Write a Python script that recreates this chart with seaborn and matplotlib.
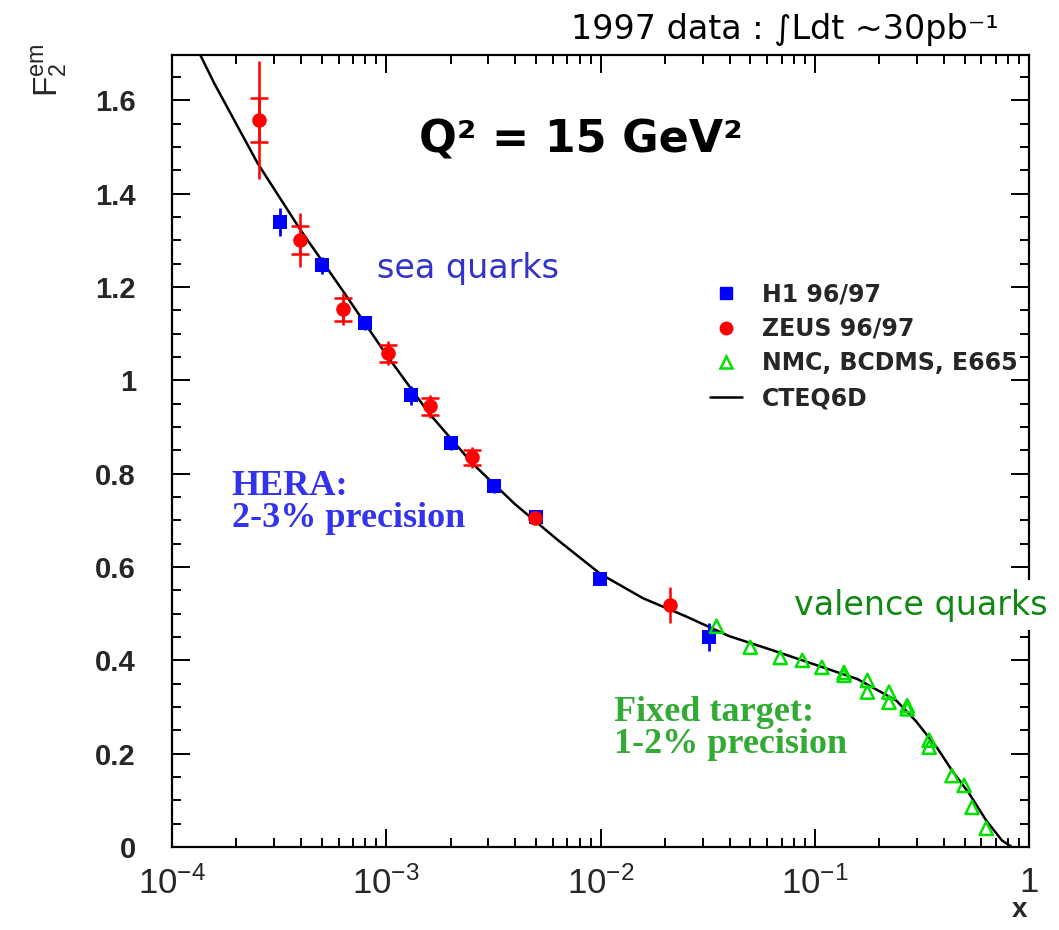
import numpy as np
import pandas as pd
import matplotlib
matplotlib.use("Agg")
import matplotlib.pyplot as plt
from matplotlib.ticker import LogLocator, MultipleLocator, FixedLocator, NullFormatter
from matplotlib.lines import Line2D
import seaborn as sns

# ---------------- data ----------------
h1_x = [3.18e-4, 5.0e-4, 7.94e-4, 1.3e-3, 2.0e-3, 3.17e-3, 5.0e-3, 9.9e-3, 3.22e-2]
h1_y = [1.339, 1.246, 1.122, 0.968, 0.865, 0.773, 0.707, 0.574, 0.449]
h1_err = [0.030, 0.018, 0.014, 0.020, 0.015, 0.014, 0.012, 0.012, 0.030]

zeus_x = [2.55e-4, 3.95e-4, 6.27e-4, 1.02e-3, 1.6e-3, 2.5e-3, 4.92e-3, 2.1e-2]
zeus_y = [1.557, 1.300, 1.152, 1.058, 0.944, 0.835, 0.704, 0.518]
zeus_tot = [0.126, 0.058, 0.034, 0.026, 0.024, 0.022, 0.012, 0.039]
zeus_stat = [0.047, 0.030, 0.024, 0.018, 0.018, 0.016, 0.0, 0.0]

fixed_x = [0.0348, 0.050, 0.069, 0.0875, 0.108, 0.137, 0.137, 0.176, 0.176,
           0.222, 0.222, 0.27, 0.27, 0.342, 0.342, 0.437, 0.498, 0.542, 0.631]
fixed_y = [0.473, 0.428, 0.406, 0.400, 0.385, 0.374, 0.368, 0.357, 0.332,
           0.332, 0.310, 0.303, 0.296, 0.229, 0.214, 0.153, 0.132, 0.085, 0.040]

cteq_x = [1.0e-4, 1.58e-4, 2.51e-4, 3.98e-4, 6.31e-4, 1.0e-3, 1.58e-3, 2.51e-3,
          3.98e-3, 6.31e-3, 1.0e-2, 1.58e-2, 2.51e-2, 3.98e-2, 6.31e-2, 0.100,
          0.158, 0.240, 0.295, 0.372, 0.437, 0.525, 0.631, 0.748, 0.832]
cteq_y = [1.82, 1.635, 1.465, 1.322, 1.19, 1.055, 0.93, 0.823,
          0.735, 0.658, 0.585, 0.533, 0.494, 0.452, 0.422, 0.391,
          0.360, 0.314, 0.271, 0.213, 0.164, 0.115, 0.057, 0.014, 0.0]

y_ticks = [0, 0.2, 0.4, 0.6, 0.8, 1.0, 1.2, 1.4, 1.6]
y_tick_labels = ["0", "0.2", "0.4", "0.6", "0.8", "1", "1.2", "1.4", "1.6"]
x_ticks = [1e-4, 1e-3, 1e-2, 1e-1, 1.0]
x_tick_labels = [r"$\mathregular{10^{-4}}$", r"$\mathregular{10^{-3}}$",
                 r"$\mathregular{10^{-2}}$", r"$\mathregular{10^{-1}}$", "1"]

legend_labels = ["H1 96/97", "ZEUS 96/97", "NMC, BCDMS, E665", "CTEQ6D"]

# ---------------- style ----------------
sns.set_theme(style="ticks")
plt.rcParams["font.family"] = ["Liberation Sans", "DejaVu Sans"]
plt.rcParams["mathtext.fontset"] = "custom"
plt.rcParams["mathtext.rm"] = "Liberation Sans"
plt.rcParams["mathtext.it"] = "Liberation Sans:italic"
plt.rcParams["mathtext.bf"] = "Liberation Sans:bold"

BLUE = "#0000ff"
RED = "#ff0000"
GREEN = "#00e000"

fig = plt.figure(figsize=(10.59, 9.30), dpi=100)
ax = fig.add_axes([0.1624, 0.0892, 0.8093, 0.8517])

# curve
cteq_df = pd.DataFrame({"x": cteq_x, "y": cteq_y})
sns.lineplot(data=cteq_df, x="x", y="y", ax=ax, color="black", lw=1.8,
             sort=False, zorder=2)

# H1 error bars and markers
ax.errorbar(h1_x, h1_y, yerr=h1_err, fmt="none", ecolor=BLUE, elinewidth=2,
            zorder=3)
h1_df = pd.DataFrame({"x": h1_x, "y": h1_y})
sns.scatterplot(data=h1_df, x="x", y="y", ax=ax, marker="s", s=110,
                color=BLUE, edgecolor=BLUE, linewidth=0, zorder=4)

# ZEUS error bars (total, stat with caps) and markers
ax.errorbar(zeus_x, zeus_y, yerr=zeus_tot, fmt="none", ecolor=RED,
            elinewidth=1.8, zorder=3)
sx = [x for x, s in zip(zeus_x, zeus_stat) if s > 0]
sy = [y for y, s in zip(zeus_y, zeus_stat) if s > 0]
ss = [s for s in zeus_stat if s > 0]
ax.errorbar(sx, sy, yerr=ss, fmt="none", ecolor=RED, elinewidth=1.8,
            capsize=6.5, capthick=1.8, zorder=3)
zeus_df = pd.DataFrame({"x": zeus_x, "y": zeus_y})
sns.scatterplot(data=zeus_df, x="x", y="y", ax=ax, marker="o", s=110,
                color=RED, edgecolor=RED, linewidth=0, zorder=5)

# fixed target
fixed_df = pd.DataFrame({"x": fixed_x, "y": fixed_y})
sns.scatterplot(data=fixed_df, x="x", y="y", ax=ax, marker="^", s=90,
                facecolor="none", edgecolor=GREEN, linewidth=1.8, zorder=4)

# axes
ax.set_xscale("log")
ax.set_xlim(1e-4, 1.0)
ax.set_ylim(0, 1.697)
ax.set_xlabel("")
ax.set_ylabel("")
ax.xaxis.set_major_locator(FixedLocator(x_ticks))
ax.set_xticklabels(x_tick_labels)
ax.xaxis.set_minor_locator(LogLocator(base=10, subs=np.arange(2, 10)))
ax.xaxis.set_minor_formatter(NullFormatter())
ax.yaxis.set_major_locator(FixedLocator(y_ticks))
ax.set_yticklabels(y_tick_labels)
ax.yaxis.set_minor_locator(MultipleLocator(0.05))

for sp in ax.spines.values():
    sp.set_visible(True)
    sp.set_linewidth(1.6)
    sp.set_color("black")
ax.tick_params(which="both", direction="in", top=True, right=True,
               color="black", width=1.4)
ax.tick_params(which="major", length=13)
ax.tick_params(which="minor", length=6.5)
ax.tick_params(axis="y", which="major", labelsize=21, pad=26)
ax.tick_params(axis="x", which="major", labelsize=25, pad=14)
for lab in ax.get_yticklabels():
    lab.set_fontweight("bold")

# legend
handles = [
    Line2D([], [], ls="none", marker="s", ms=9, color=BLUE, mec=BLUE),
    Line2D([], [], ls="none", marker="o", ms=9, color=RED, mec=RED),
    Line2D([], [], ls="none", marker="^", ms=8, mfc="none", mec=GREEN, mew=1.8),
    Line2D([], [], color="black", lw=1.8),
]
leg = ax.legend(handles, legend_labels, loc="upper left",
                bbox_to_anchor=(0.614, 0.728), frameon=False, borderpad=0,
                prop={"family": "DejaVu Sans", "weight": "bold", "size": 17},
                handlelength=1.35, handletextpad=0.85, labelspacing=0.45)
leg.set_zorder(6)

# annotations
ax.text(8.1e-3, 1.515, "Q² = 15 GeV²", ha="center", va="center",
        fontsize=32, fontweight="bold", family="DejaVu Sans", color="black",
        zorder=7)
ax.text(9.1e-4, 1.24, "sea quarks", ha="left", va="center", fontsize=24,
        family="DejaVu Sans", color="#3333cc", zorder=7,
        bbox=dict(facecolor="white", edgecolor="none", pad=4))
ax.text(0.080, 0.518, "valence quarks", ha="left", va="center", fontsize=24,
        family="DejaVu Sans", color="#118811", zorder=8, clip_on=False,
        bbox=dict(facecolor="white", edgecolor="none", pad=6))
ax.text(1.9e-4, 0.738, "HERA:\n2-3% precision", ha="left", va="center",
        fontsize=26, fontweight="bold", family="Liberation Serif",
        color="#3333ee", linespacing=0.95, zorder=7)
ax.text(0.0116, 0.254, "Fixed target:\n1-2% precision", ha="left", va="center",
        fontsize=26, fontweight="bold", family="Liberation Serif",
        color="#33aa33", linespacing=0.95, zorder=7)

fig.text(0.741, 0.968, "1997 data : ∫Ldt ~30pb⁻¹", ha="center", va="center",
         fontsize=24, family="DejaVu Sans", color="black")
fig.text(0.963, 0.021, "x", ha="center", va="center", fontsize=20,
         fontweight="bold")
fig.text(0.047, 0.925, r"$\mathregular{F_2^{em}}$", ha="center", va="center",
         fontsize=24, rotation=90)

fig.savefig("out.png", dpi=100)
